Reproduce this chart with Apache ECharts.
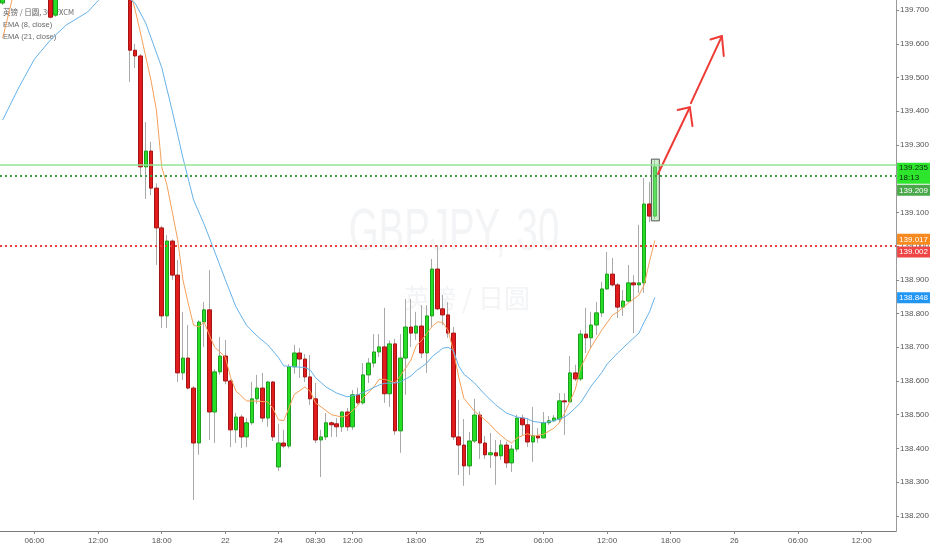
<!DOCTYPE html>
<html>
<head>
<meta charset="utf-8">
<script src="https://cdn.jsdelivr.net/npm/echarts/dist/echarts.min.js"></script>
<style>
html,body{margin:0;padding:0;background:#fff;}
#chart{width:932px;height:550px;}
</style>
</head>
<body>
<div id="chart"></div>
<script>
// ---- time axis: trading sessions (day, first bar, number of 30-min bars) ----
const sessions = [['21','03:00',42],['22','00:00',10],['24','05:00',38],['25','00:00',48],['26','00:00',31]];
const tickLabels = {
  '21 06:00':'06:00','21 12:00':'12:00','21 18:00':'18:00','22 00:00':'22',
  '24 05:00':'24','24 08:30':'08:30','24 12:00':'12:00','24 18:00':'18:00',
  '25 00:00':'25','25 06:00':'06:00','25 12:00':'12:00','25 18:00':'18:00',
  '26 00:00':'26','26 06:00':'06:00','26 12:00':'12:00'
};

// ---- candles: [open, close, low, high] per bar (null = bar above the visible range) ----
const ohlc = [
[139.721,139.770,139.715,139.790],
null,null,null,null,null,null,null,null,
[139.780,139.679,139.675,139.790],
[139.685,139.780,139.680,139.800],
null,null,null,null,null,null,null,null,null,null,null,null,null,
[139.780,139.581,139.487,139.800],
[139.581,139.564,139.528,139.600],
[139.564,139.235,139.205,139.570],
[139.235,139.282,139.140,139.368],
[139.282,139.172,139.151,139.309],
[139.172,139.054,138.944,139.186],
[139.054,138.793,138.757,139.060],
[138.793,139.015,138.757,139.033],
[139.015,138.914,138.900,139.020],
[138.914,138.624,138.597,138.959],
[138.624,138.668,138.603,138.805],
[138.668,138.579,138.575,138.766],
[138.579,138.416,138.247,138.585],
[138.416,138.775,138.381,138.780],
[138.775,138.811,138.701,138.834],
[138.811,138.508,138.425,138.929],
[138.508,138.627,138.416,138.635],
[138.627,138.674,138.618,138.731],
[138.674,138.600,138.590,138.722],
[138.600,138.455,138.404,138.605],
[138.455,138.493,138.416,138.505],
[138.493,138.434,138.401,138.500],
[138.434,138.476,138.404,138.490],
[138.476,138.547,138.470,138.597],
[138.547,138.579,138.532,138.618],
[138.579,138.490,138.478,138.624],
[138.490,138.597,138.464,138.600],
[138.597,138.434,138.422,138.600],
[138.345,138.416,138.333,138.473],
[138.416,138.407,138.400,138.455],
[138.407,138.642,138.400,138.650],
[138.642,138.683,138.621,138.707],
[138.683,138.665,138.609,138.698],
[138.665,138.612,138.597,138.680],
[138.612,138.547,138.529,138.677],
[138.547,138.425,138.416,138.594],
[138.425,138.434,138.315,138.455],
[138.434,138.476,138.425,138.505],
[138.476,138.470,138.434,138.480],
[138.473,138.464,138.434,138.490],
[138.464,138.508,138.449,138.510],
[138.508,138.464,138.452,138.520],
[138.464,138.559,138.455,138.573],
[138.559,138.535,138.530,138.580],
[138.535,138.618,138.530,138.653],
[138.618,138.653,138.594,138.668],
[138.653,138.686,138.640,138.739],
[138.686,138.701,138.671,138.739],
[138.701,138.562,138.535,138.817],
[138.562,138.710,138.523,138.720],
[138.710,138.452,138.440,138.725],
[138.452,138.668,138.387,138.739],
[138.668,138.760,138.559,138.843],
[138.760,138.742,138.701,138.843],
[138.742,138.763,138.722,138.805],
[138.763,138.683,138.668,138.825],
[138.683,138.793,138.624,138.825],
[138.793,138.932,138.760,138.962],
[138.932,138.814,138.810,139.003],
[138.814,138.796,138.766,138.855],
[138.796,138.742,138.728,138.834],
[138.742,138.434,138.425,138.760],
[138.434,138.410,138.321,138.544],
[138.410,138.348,138.289,138.487],
[138.348,138.422,138.321,138.449],
[138.422,138.499,138.416,138.547],
[138.499,138.416,138.369,138.510],
[138.416,138.381,138.369,138.437],
[138.381,138.387,138.342,138.446],
[138.387,138.378,138.292,138.425],
[138.378,138.410,138.366,138.425],
[138.410,138.357,138.342,138.420],
[138.357,138.398,138.330,138.410],
[138.398,138.490,138.390,138.500],
[138.490,138.470,138.440,138.500],
[138.470,138.419,138.404,138.490],
[138.419,138.437,138.360,138.523],
[138.437,138.431,138.416,138.460],
[138.431,138.476,138.430,138.508],
[138.476,138.482,138.470,138.496],
[138.482,138.490,138.478,138.499],
[138.487,138.541,138.476,138.564],
[138.541,138.538,138.440,138.564],
[138.538,138.624,138.535,138.674],
[138.624,138.606,138.600,138.648],
[138.606,138.739,138.600,138.751],
[138.739,138.728,138.683,138.817],
[138.728,138.766,138.698,138.805],
[138.766,138.802,138.736,138.834],
[138.802,138.873,138.790,138.894],
[138.873,138.917,138.870,138.983],
[138.917,138.885,138.880,138.965],
[138.885,138.819,138.787,138.890],
[138.819,138.837,138.793,138.870],
[138.837,138.891,138.834,138.944],
[138.891,138.885,138.742,138.914],
[138.885,138.891,138.861,139.063],
[138.891,139.125,138.861,139.202],
[139.125,139.089,139.071,139.190],
[139.089,139.235,139.080,139.255]
];

// ---- EMA lines: [bar index, value] ----
const ema8 = [
[0,139.617],[2,139.745],[24,139.760],[25,139.700],[26,139.632],[28,139.490],[29,139.404],[30,139.235],
[31,139.180],[33,139.020],[34,138.900],[35,138.830],[36,138.766],[37,138.760],[38,138.775],[39,138.735],
[40,138.700],[42,138.671],[43,138.610],[44,138.570],[46,138.541],[48,138.540],[50,138.538],[51,138.518],
[52,138.485],[53,138.482],[54,138.520],[55,138.560],[57,138.582],[58,138.570],[59,138.535],[61,138.512],
[62,138.500],[64,138.493],[65,138.498],[67,138.527],[68,138.550],[70,138.582],[71,138.605],[72,138.605],
[74,138.595],[75,138.615],[77,138.662],[78,138.705],[79,138.720],[81,138.762],[82,138.775],[83,138.774],
[84,138.750],[85,138.690],[86,138.612],[87,138.548],[89,138.510],[90,138.498],[92,138.470],[93,138.452],
[95,138.425],[96,138.416],[97,138.431],[99,138.444],[100,138.436],[102,138.442],[104,138.460],[105,138.476],
[106,138.505],[108,138.575],[109,138.640],[111,138.701],[113,138.751],[115,138.795],[116,138.805],[118,138.831],
[120,138.855],[121,138.885],[122,138.955],[123,139.017]
];
const ema21 = [
[0,139.374],[3,139.469],[6,139.555],[9,139.611],[12,139.656],[16,139.694],[18,139.728],[21,139.770],
[25,139.720],[27,139.661],[30,139.530],[32,139.400],[34,139.262],[36,139.137],[38,139.065],[40,138.983],
[42,138.900],[44,138.820],[46,138.765],[48,138.733],[50,138.707],[52,138.670],[53,138.645],[55,138.642],
[57,138.640],[58,138.633],[59,138.610],[61,138.582],[63,138.564],[65,138.553],[67,138.559],[69,138.573],
[71,138.588],[72,138.593],[74,138.594],[75,138.597],[77,138.615],[78,138.630],[80,138.653],[81,138.672],
[83,138.697],[84,138.700],[85,138.690],[86,138.645],[87,138.620],[89,138.594],[91,138.559],[93,138.529],
[95,138.505],[97,138.493],[99,138.488],[100,138.480],[102,138.476],[104,138.482],[106,138.493],[107,138.505],
[109,138.535],[111,138.585],[113,138.625],[114,138.650],[116,138.683],[118,138.713],[120,138.742],[121,138.775],
[122,138.805],[123,138.848]
];

// ---- horizontal price levels ----
const lastPrice = 139.235;
const countdown = '18:13';
const greenLevel = 139.209;
const redLevel = 139.002;

// ---- drawn arrows (bar index, price) ----
const arrowLines = [
  [[123.6,139.214],[129.6,139.412]],
  [[127.3,139.404],[129.6,139.412],[130.1,139.356]],
  [[129.8,139.424],[135.65,139.623]],
  [[133.5,139.613],[135.65,139.623],[136.0,139.564]]
];
// selection box around the last bar
const selBox = [[122.35,139.258],[123.85,139.075]];

// ---------------------------------------------------------------------------
const categories = [];
sessions.forEach(([day, start, n]) => {
  const [h, m] = start.split(':').map(Number);
  const t0 = h * 60 + m;
  for (let i = 0; i < n; i++) {
    const t = t0 + i * 30;
    categories.push(day + ' ' + String(Math.floor(t / 60)).padStart(2, '0') + ':' + String(t % 60).padStart(2, '0'));
  }
});
const nCat = categories.length;

const wickData = ohlc.map(d => d ? d.slice() : '-');
const bodyData = ohlc.map(d => d ? [d[0], d[1], Math.min(d[0], d[1]), Math.max(d[0], d[1])] : '-');

const narrow = '"Liberation Sans Narrow","Arial Narrow","Liberation Sans",sans-serif';
const tagLabel = (text, bg, fg, dy) => ({
  show: true, position: 'end', distance: 1, formatter: text,
  backgroundColor: bg, color: fg, fontSize: 8, fontFamily: narrow,
  padding: [1, 2, 0, 2], lineHeight: 10, offset: [0, dy || 0]
});
const hiddenLine = {color: 'rgba(0,0,0,0)', width: 1, type: 'solid'};

const chart = echarts.init(document.getElementById('chart'), null, {renderer: 'canvas'});
const option = {
  animation: false,
  backgroundColor: '#ffffff',
  grid: {left: 0, right: 25, top: 0, bottom: 19, containLabel: false},
  xAxis: [{
    type: 'category', data: categories, boundaryGap: true,
    axisLine: {show: true, onZero: false, lineStyle: {color: '#7a7a7a', width: 1}},
    axisTick: {show: true, alignWithLabel: true, length: 3, lineStyle: {color: '#888'},
      interval: (i, v) => tickLabels[v] !== undefined},
    axisLabel: {show: true, interval: (i, v) => tickLabels[v] !== undefined,
      formatter: v => tickLabels[v] || '', color: '#555', fontSize: 8, fontFamily: narrow, margin: 6},
    splitLine: {show: false}
  }, {
    type: 'value', min: -0.5, max: nCat - 0.5, show: false,
    axisLine: {show: false, onZero: false}
  }],
  yAxis: {
    type: 'value', position: 'right', min: 138.155, max: 139.73, scale: true,
    splitNumber: 15, minInterval: 0.1, maxInterval: 0.1,
    axisLine: {show: true, onZero: false, lineStyle: {color: '#9a9a9a'}},
    axisTick: {show: true, length: 3, lineStyle: {color: '#888'}},
    axisLabel: {show: true, formatter: v => v.toFixed(3), color: '#555', fontSize: 8,
      fontFamily: narrow, margin: 4, showMinLabel: false, showMaxLabel: false},
    splitLine: {show: false}
  },
  graphic: [
    {type: 'text', x: 454, y: 233, scaleX: 0.64, z: 0, silent: true,
      style: {text: 'GBPJPY, 30', align: 'center', verticalAlign: 'middle',
        font: '60px "Liberation Sans", sans-serif', fill: '#f3f4f6'}},
    {type: 'text', x: 467, y: 298, z: 0, silent: true,
      style: {text: '英镑 / 日圆', align: 'center', verticalAlign: 'middle',
        font: '26px "Noto Sans CJK SC", sans-serif', fill: '#f3f4f6'}},
    {type: 'text', x: 3, y: 12, z: 0, silent: true,
      style: {text: '英镑 / 日圆, 30, FXCM', verticalAlign: 'middle',
        font: '7.5px "Noto Sans CJK SC", sans-serif', fill: '#666'}},
    {type: 'text', x: 3, y: 25, z: 0, silent: true,
      style: {text: 'EMA (8, close)', verticalAlign: 'middle',
        font: '7.5px "Liberation Sans", sans-serif', fill: '#666'}},
    {type: 'text', x: 3, y: 37, z: 0, silent: true,
      style: {text: 'EMA (21, close)', verticalAlign: 'middle',
        font: '7.5px "Liberation Sans", sans-serif', fill: '#666'}}
  ],
  series: [
    {
      name: 'wick', type: 'candlestick', data: wickData, barWidth: 1, z: 2, clip: true,
      itemStyle: {color: '#a9a9a9', color0: '#a9a9a9', borderColor: '#a9a9a9', borderColor0: '#a9a9a9', borderWidth: 1}
    },
    {
      name: 'body', type: 'candlestick', data: bodyData, barWidth: 4, z: 3, clip: true,
      itemStyle: {color: '#27de27', color0: '#e21c1c', borderColor: '#1c9f1c', borderColor0: '#a51414', borderWidth: 1},
      markLine: {
        silent: true, animation: false, symbol: ['none', 'none'], z: 10,
        data: [
          {yAxis: lastPrice, lineStyle: {color: '#94e494', width: 1.5, type: 'solid'},
            label: tagLabel(lastPrice.toFixed(3) + '\n' + countdown, '#2ee52e', '#0b2a0b', 8)},
          {yAxis: greenLevel, lineStyle: {color: '#3f9c3f', width: 2, type: [2, 3]},
            label: tagLabel(greenLevel.toFixed(3), '#4aa84a', '#ffffff', 15)},
          {yAxis: ema8[ema8.length - 1][1], lineStyle: hiddenLine,
            label: tagLabel(ema8[ema8.length - 1][1].toFixed(3), '#f7891f', '#ffffff', 0)},
          {yAxis: redLevel, lineStyle: {color: '#e8413c', width: 2, type: [2, 3]},
            label: tagLabel(redLevel.toFixed(3), '#ef4545', '#ffffff', 6)},
          {yAxis: ema21[ema21.length - 1][1], lineStyle: hiddenLine,
            label: tagLabel(ema21[ema21.length - 1][1].toFixed(3), '#2196f3', '#ffffff', 1)}
        ]
      }
    },
    {
      name: 'EMA 8', type: 'line', data: ema8, showSymbol: false, symbol: 'none', z: 4,
      lineStyle: {color: '#f5a05a', width: 1}, clip: true
    },
    {
      name: 'EMA 21', type: 'line', data: ema21, showSymbol: false, symbol: 'none', z: 4,
      lineStyle: {color: '#66b2e8', width: 1}, clip: true
    }
  ].concat(arrowLines.map((pts, i) => ({
    type: 'line', xAxisIndex: 1, data: pts, symbol: 'none', z: 6, clip: false,
    lineStyle: {color: '#ee3b36', width: 2, cap: 'round', join: 'round'},
    markArea: i === 0 ? {
      silent: true, z: 5,
      itemStyle: {color: 'rgba(150,225,150,0.45)', borderColor: '#555', borderWidth: 1},
      data: [[{coord: selBox[0]}, {coord: selBox[1]}]]
    } : undefined
  })))
};
chart.setOption(option);
</script>
</body>
</html>
